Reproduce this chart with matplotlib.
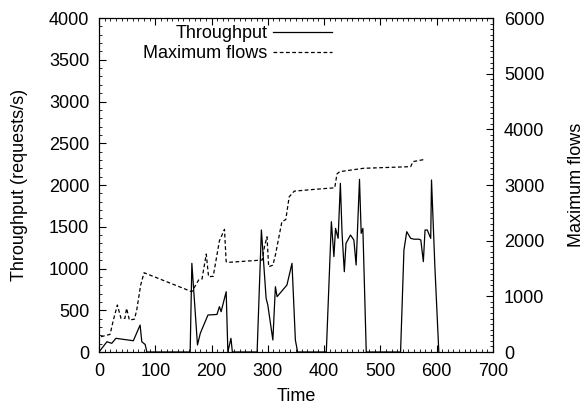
import matplotlib.pyplot as plt
from matplotlib.ticker import MultipleLocator
plt.switch_backend('Agg')

plt.rcParams['font.family'] = ['Liberation Sans', 'DejaVu Sans']

# throughput (requests/s), left axis
tp_time = [0, 14, 22.6, 30, 61, 73, 76, 82, 85,
           162, 165, 175, 180, 193.6, 209.6, 214, 217, 226, 229, 234.5, 237,
           281, 288.6, 297, 300, 309, 313.5, 316.5, 334, 343, 349, 353,
           404, 413, 417.5, 420.4, 425, 429, 432, 436, 439, 447, 453, 457, 463, 466, 469, 475,
           536, 542, 547, 554, 560, 569, 572, 576.5, 579.5, 583.5, 589.6, 591, 597, 604]
tp_value = [0, 123, 104, 164, 135, 323, 123, 90, 0,
            0, 1062, 84, 224, 443, 450, 543, 483, 722, 0, 164, 0,
            0, 1461, 643, 563, 144, 782, 663, 802, 1062, 144, 0,
            0, 1561, 1142, 1481, 1361, 2020, 1421, 962, 1302, 1401, 1341, 1042, 2068, 1421, 1481, 0,
            0, 1222, 1441, 1361, 1351, 1351, 1341, 1082, 1461, 1461, 1361, 2060, 1022, 0]

# maximum flows, right axis
mf_time = [3.5, 19.6, 25.5, 32.6, 39, 46, 49, 54, 63, 67, 74, 80,
           165, 177, 183, 190.6, 194.7, 203, 214, 223, 226, 229,
           290, 294, 298.6, 301.5, 309, 313.5, 325, 332, 338, 347,
           382, 419, 423, 428, 470, 554, 558, 579]
mf_value = [275, 317, 575, 844, 605, 605, 784, 575, 590, 754, 1203, 1424,
            1083, 1293, 1310, 1760, 1352, 1360, 1998, 2203, 1621, 1610,
            1652, 1890, 2070, 1532, 1560, 1741, 2340, 2380, 2788, 2890,
            2921, 2950, 3200, 3240, 3300, 3330, 3420, 3460]

fs = 13

fig = plt.figure(figsize=(5.86, 4.12), dpi=100)
ax = fig.add_axes([0.169, 0.1456, 0.672, 0.8107])
ax2 = ax.twinx()

l1, = ax.plot(tp_time, tp_value, color='black', lw=0.9, label='Throughput')
l2, = ax2.plot(mf_time, mf_value, color='black', lw=0.9, ls=(0, (3, 2)), label='Maximum flows')

ax.set_xlim(0, 700)
ax.set_ylim(0, 4000)
ax2.set_ylim(0, 6000)
ax.xaxis.set_major_locator(MultipleLocator(100))
ax.xaxis.set_minor_locator(MultipleLocator(10))
ax.yaxis.set_major_locator(MultipleLocator(500))
ax.yaxis.set_minor_locator(MultipleLocator(100))
ax2.yaxis.set_major_locator(MultipleLocator(1000))
ax2.yaxis.set_minor_locator(MultipleLocator(100))

ax.tick_params(which='both', direction='in', top=True, right=False, labelsize=fs, color='black')
ax.tick_params(which='major', length=5)
ax.tick_params(which='minor', length=2.5)
ax.tick_params(axis='y', pad=7)
ax.tick_params(axis='x', pad=8)
ax2.tick_params(which='both', direction='in', labelsize=fs, pad=8)
ax2.tick_params(which='major', length=5)
ax2.tick_params(which='minor', length=2.5)

ax.set_xlabel('Time', fontsize=fs, labelpad=6)
ax.set_ylabel('Throughput (requests/s)', fontsize=fs, labelpad=15)
ax2.set_ylabel('Maximum flows', fontsize=fs, labelpad=17)

ax.legend(handles=[l1, l2], loc='upper right', bbox_to_anchor=(0.592, 0.978),
          frameon=False, markerfirst=False, handlelength=3.3, fontsize=fs,
          labelspacing=0.15, handletextpad=0.3, borderaxespad=0, borderpad=0)

plt.savefig('out.png')
